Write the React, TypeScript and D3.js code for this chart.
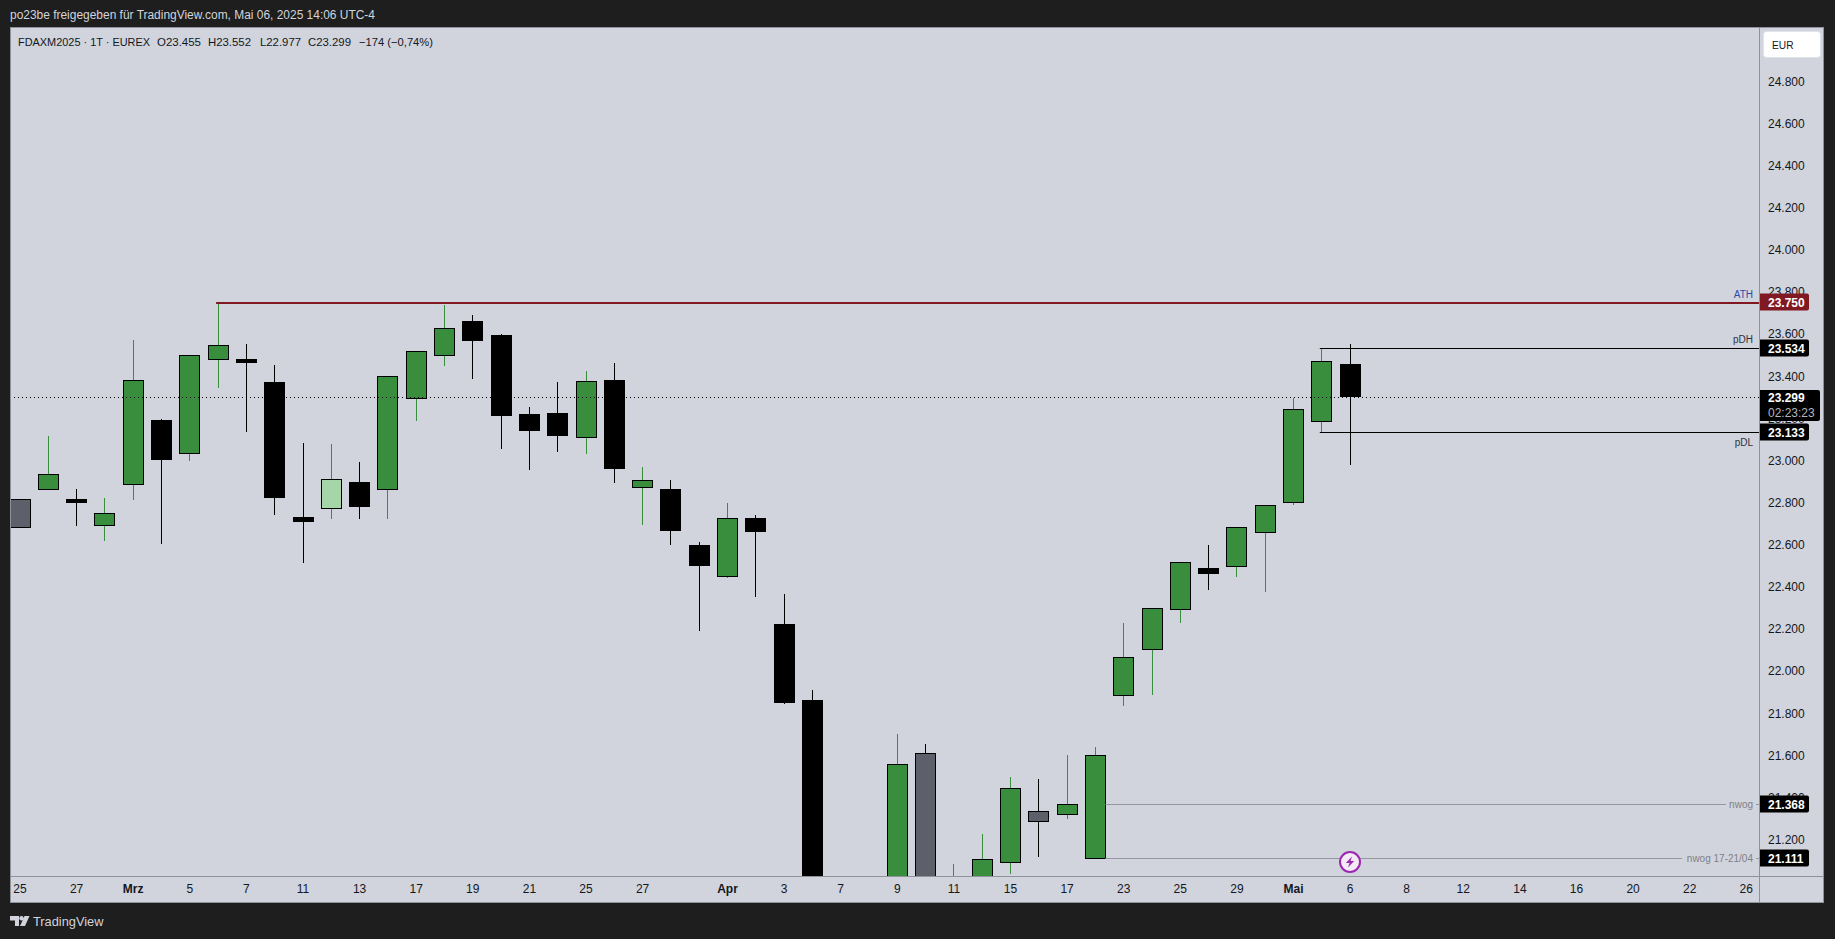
import React from "react";
import * as d3 from "d3";

const W = 1835, H = 939;
const titleText = "po23be freigegeben für TradingView.com, Mai 06, 2025 14:06 UTC-4";
const legendParts = ["FDAXM2025 · 1T · EUREX", "O23.455", "H23.552", "L22.977", "C23.299", "−174 (−0,74%)"];

// Daily candles, prices in index points. null = session not visible in the frame.
const opens = [22817,22858,22818,22687,22881,23193,23028,23475,23483,23374,22733,22767,22899,22858,23289,23494,23663,23597,23222,23226,23104,23383,22867,22866,22600,22445,22728,22225,21860,null,null,20900,21611,20800,20900,21087,21336,21315,21106,21880,22098,22288,22491,22492,22654,22796,23180,23455];
const closes = [22677,22935,22795,22750,23382,23003,23500,23548,23464,22823,22709,22912,22776,23401,23519,23628,23568,23212,23141,23117,23377,22961,22907,22666,22500,22727,22662,21850,20900,null,null,21559,20900,20900,21108,21445,21282,21369,21602,22067,22299,22518,22462,22684,22788,23244,23472,23299];
const highs = [22817,23117,22866,22823,23573,23198,23500,23747,23554,23454,23084,23079,22994,23401,23519,23739,23691,23601,23255,23374,23426,23464,22970,22908,22614,22799,22738,22363,21912,null,null,21703,21651,21086,21228,21499,21485,21603,21641,22230,22299,22518,22600,22684,22788,23298,23535,23552];
const lows = [22677,22858,22690,22619,22813,22605,22999,23345,23136,22738,22514,22719,22719,22723,23188,23449,23388,23056,22956,23041,23032,22894,22695,22600,22192,22439,22353,21841,20900,null,null,20900,20900,20800,20900,21034,21119,21295,21106,21836,21888,22230,22386,22448,22377,22790,23131,22977];
// 0 = regular, 1 = light green, 2 = grey
const bodyStyle = [2,0,0,0,0,0,0,0,0,0,0,1,0,0,0,0,0,0,0,0,0,0,0,0,0,0,0,0,0,0,0,0,2,0,0,0,2,0,0,0,0,0,0,0,0,0,0,0];

const yTicks = [24800,24600,24400,24200,24000,23800,23600,23400,23200,23000,22800,22600,22400,22200,22000,21800,21600,21400,21200];
const xLabels = ["25","27","Mrz","5","7","11","13","17","19","21","25","27","Apr","3","7","9","11","15","17","23","25","29","Mai","6","8","12","14","16","20","22","26"];
const xLabelSlots = [0,2,4,6,8,10,12,14,16,18,20,22,25,27,29,31,33,35,37,39,41,43,45,47,49,51,53,55,57,59,61];
const boldLabels = ["Mrz","Apr","Mai"];

const athLevel = 23750, pdhLevel = 23534, pdlLevel = 23133, lastPrice = 23299, nwogLevel = 21368, nwog2Level = 21111, clippedLevel = 20945;
const fmt = (v: number) => d3.format(",.0f")(v).replace(",", ".");

const PANEL = { l: 10, t: 27, r: 1824, b: 903 };
const AX_X = 1759, AX_Y = 876;
const C_BG = "#d1d4dc", C_DARK = "#1e1e1e", C_GREEN = "#388e3c", C_RED = "#801922", C_GREY = "#5d606b", C_LINE = "#8f929b";
const FONT = "'Liberation Sans', Arial, sans-serif";
const legendX = [18, 157, 208, 260, 308, 359];
const legendW = [132, 44, 43, 41, 43, 74];

export default function App() {
  const x = d3.scaleLinear().domain([0, 47]).range([20, 1350.1]);
  const yRaw = d3.scaleLinear().domain([23000, 24800]).range([460.3, 81.1]);
  const y = (v: number) => Math.round(yRaw(v));
  const cx = (i: number) => Math.floor(x(i)) + 0.5;

  const priceLabel = (v: number, fill: string) => (
    <g key={v}>
      <path d={`M${AX_X + 1} ${y(v) - 8.5}H${AX_X + 48}a2 2 0 0 1 2 2V${y(v) + 6.5}a2 2 0 0 1 -2 2H${AX_X + 1}Z`} fill={fill} />
      <text x={AX_X + 9} y={y(v) + 4.5} fill="#fff" fontSize={12} fontWeight={700} style={{ fontFamily: FONT }}>{fmt(v)}</text>
    </g>
  );

  return (
    <svg width={W} height={H} viewBox={`0 0 ${W} ${H}`} style={{ position: "absolute", left: 0, top: 0, display: "block" }}>
      <defs>
        <clipPath id="plot"><rect x={PANEL.l + 1} y={PANEL.t + 1} width={AX_X - PANEL.l - 1} height={AX_Y - PANEL.t - 1} /></clipPath>
        <clipPath id="axisClip"><rect x={AX_X} y={PANEL.t + 1} width={PANEL.r - AX_X} height={AX_Y - PANEL.t - 1} /></clipPath>
      </defs>
      <rect width={W} height={H} fill={C_DARK} />
      <rect x={PANEL.l + 0.5} y={PANEL.t + 0.5} width={PANEL.r - PANEL.l - 1} height={PANEL.b - PANEL.t - 1} fill={C_BG} stroke={C_LINE} />
      <text x={10} y={19} fill="#d1d4dc" fontSize={12} textLength={365} lengthAdjust="spacingAndGlyphs" style={{ fontFamily: FONT }}>{titleText}</text>
      <g fill="#131722" style={{ fontFamily: FONT }}>
        {legendParts.map((t, i) => (
          <text key={i} x={legendX[i]} y={46} fontSize={i === 0 ? 10.5 : 11.5} textLength={legendW[i]} lengthAdjust="spacingAndGlyphs">{t}</text>
        ))}
      </g>

      <g clipPath="url(#plot)">
        {opens.map((o, i) => {
          const c = closes[i], hi = highs[i], lo = lows[i];
          if (o == null || c == null || hi == null || lo == null) return null;
          const up = c >= o;
          const st = bodyStyle[i];
          const fill = st === 1 ? "#a5d6a7" : st === 2 ? C_GREY : up ? C_GREEN : "#000";
          const wick = up ? C_GREEN : "#000";
          const t = y(Math.max(o, c)), b = y(Math.min(o, c));
          return (
            <g key={i}>
              <line x1={cx(i)} x2={cx(i)} y1={y(hi)} y2={y(lo)} stroke={st === 2 ? "#000" : wick} strokeWidth={1} />
              <rect x={cx(i) - 10} y={t + 0.5} width={20} height={Math.max(b - t - 1, 1)} fill={fill} stroke="#000" strokeWidth={1} />
            </g>
          );
        })}
        <line x1={PANEL.l} x2={AX_X} y1={y(lastPrice) + 0.5} y2={y(lastPrice) + 0.5} stroke="#000" strokeDasharray="1 3" />
        <line x1={x(7) - 2} x2={AX_X} y1={y(athLevel) + 1} y2={y(athLevel) + 1} stroke={C_RED} strokeWidth={2} />
        <line x1={x(46) - 2} x2={AX_X} y1={y(pdhLevel) + 0.5} y2={y(pdhLevel) + 0.5} stroke="#000" />
        <line x1={x(46) - 2} x2={AX_X} y1={y(pdlLevel) + 0.5} y2={y(pdlLevel) + 0.5} stroke="#000" />
        <line x1={x(38) + 10} x2={1726} y1={y(nwogLevel) + 0.5} y2={y(nwogLevel) + 0.5} stroke="#9598a1" />
        <line x1={1756} x2={AX_X} y1={y(nwogLevel) + 0.5} y2={y(nwogLevel) + 0.5} stroke="#9598a1" />
        <line x1={x(38) + 10} x2={1682} y1={y(nwog2Level) + 0.5} y2={y(nwog2Level) + 0.5} stroke="#9598a1" />
        <line x1={1756} x2={AX_X} y1={y(nwog2Level) + 0.5} y2={y(nwog2Level) + 0.5} stroke="#9598a1" />
      </g>

      <g fontSize={10} textAnchor="end" style={{ fontFamily: FONT }}>
        <text x={1753} y={298} fill="#2a4ca8">ATH</text>
        <text x={1753} y={343} fill="#2f323c">pDH</text>
        <text x={1753} y={446} fill="#2f323c">pDL</text>
        <text x={1753} y={y(nwogLevel) + 4} fill="#7e818a">nwog</text>
        <text x={1753} y={y(nwog2Level) + 4} fill="#7e818a">nwog 17-21/04</text>
      </g>

      <g>
        <circle cx={1350} cy={862} r={10} fill="#f3eaf5" stroke="#9c27b0" strokeWidth={2} />
        <path d="M1352 856.5L1345.8 863H1349.5L1348 867.5L1354.2 861H1350.5Z" fill="#9c27b0" />
      </g>

      <line x1={AX_X + 0.5} x2={AX_X + 0.5} y1={PANEL.t} y2={PANEL.b} stroke={C_LINE} />
      <line x1={PANEL.l} x2={PANEL.r} y1={AX_Y + 0.5} y2={AX_Y + 0.5} stroke={C_LINE} />

      <g fontSize={12} fill="#131722" style={{ fontFamily: FONT }}>
        {yTicks.map((t) => (
          <text key={t} x={AX_X + 9} y={yRaw(t) + 4.5}>{fmt(t)}</text>
        ))}
      </g>
      <g clipPath="url(#axisClip)">
        {priceLabel(athLevel, C_RED)}
        {priceLabel(pdhLevel, "#000")}
        {priceLabel(pdlLevel, "#000")}
        {priceLabel(nwogLevel, "#000")}
        {priceLabel(nwog2Level, "#000")}
        {priceLabel(clippedLevel, "#000")}
        <path d={`M${AX_X + 1} 390H${AX_X + 59}a2 2 0 0 1 2 2V419a2 2 0 0 1 -2 2H${AX_X + 1}Z`} fill="#000" />
        <text x={AX_X + 9} y={y(lastPrice) + 4.5} fill="#fff" fontSize={12} fontWeight={700} style={{ fontFamily: FONT }}>{fmt(lastPrice)}</text>
        <text x={AX_X + 9} y={417} fill="#b2b5be" fontSize={12} style={{ fontFamily: FONT }}>02:23:23</text>
      </g>

      <rect x={1763.5} y={31.5} width={57} height={26} rx={3} fill="#fff" stroke="#e0e3eb" />
      <text x={1772} y={49} fill="#131722" fontSize={11} textLength={21.5} lengthAdjust="spacingAndGlyphs" style={{ fontFamily: FONT }}>EUR</text>

      <g fontSize={12} fill="#131722" textAnchor="middle" style={{ fontFamily: FONT }}>
        {xLabels.map((l, i) => (
          <text key={i} x={x(xLabelSlots[i])} y={893} fontWeight={boldLabels.includes(l) ? 600 : 400}>{l}</text>
        ))}
      </g>

      <g fill="#d1d4dc">
        <path d="M10 916H19V926H15V920.5H10Z" />
        <circle cx={21.5} cy={918.2} r={2.2} />
        <path d="M24.5 916H29.5L25 926H20Z" />
        <text x={33} y={926} fontSize={13} textLength={70.5} lengthAdjust="spacingAndGlyphs" style={{ fontFamily: FONT }}>TradingView</text>
      </g>
    </svg>
  );
}
